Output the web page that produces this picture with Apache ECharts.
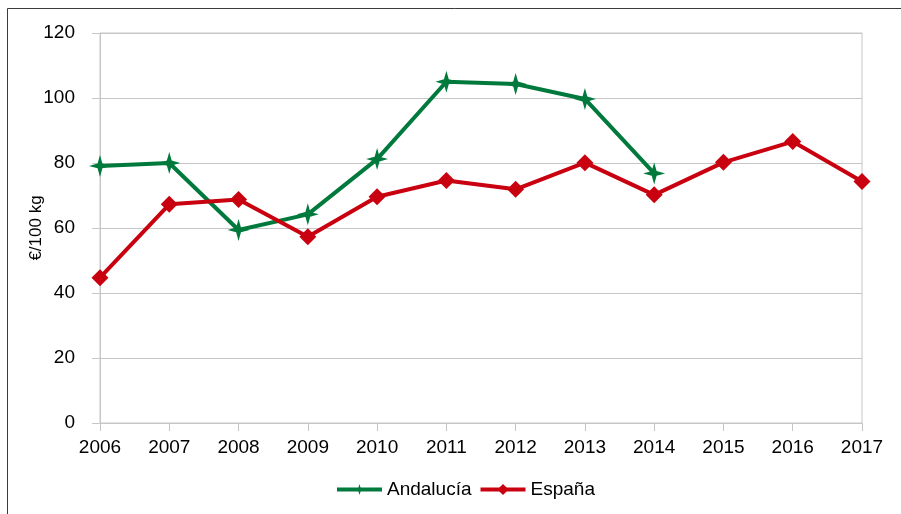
<!DOCTYPE html>
<html>
<head>
<meta charset="utf-8">
<script src="https://cdn.jsdelivr.net/npm/echarts@6/dist/echarts.min.js"></script>
<style>
  html, body { margin: 0; padding: 0; background: #fff; }
  #main { width: 901px; height: 514px; }
</style>
</head>
<body>
<div id="main"></div>
<script>
// datos (€/100 kg)
var years = ['2006', '2007', '2008', '2009', '2010', '2011', '2012', '2013', '2014', '2015', '2016', '2017'];
var andalucia = [79.1, 80.0, 59.4, 64.2, 81.2, 105.0, 104.3, 99.7, 76.8, null, null, null];
var espana = [44.7, 67.3, 68.8, 57.3, 69.6, 74.6, 71.9, 80.1, 70.2, 80.2, 86.6, 74.3];

var green = '#007a3c';
var red = '#c9000f';
var starPath = 'path://M10,0 L12.2,7.8 L20,10 L12.2,12.2 L10,20 L7.8,12.2 L0,10 L7.8,7.8 Z';

var chart = echarts.init(document.getElementById('main'));

var option = {
    animation: false,
    textStyle: { fontFamily: 'Liberation Sans', color: '#000' },
    graphic: [{
        type: 'polyline',
        shape: { points: [[7.5, 514], [7.5, 8.5], [901, 8.5]] },
        style: { stroke: '#3a3a3a', lineWidth: 1, fill: null }
    }],
    grid: {
        left: 100, right: 39, top: 33, bottom: 91,
        show: true, borderColor: '#c6c6c6', borderWidth: 1
    },
    legend: {
        left: 330, top: 475,
        itemWidth: 45, itemHeight: 14, itemGap: 7,
        lineStyle: { width: 4 },
        textStyle: { fontSize: 19, color: '#000', fontFamily: 'Liberation Sans' },
        data: ['Andalucía', 'España']
    },
    xAxis: {
        type: 'category',
        data: years,
        boundaryGap: false,
        axisLine: { lineStyle: { color: '#c6c6c6', width: 1 } },
        axisTick: { show: true, length: 8, alignWithLabel: true, lineStyle: { color: '#c6c6c6' } },
        axisLabel: { fontSize: 19, color: '#000', margin: 15 },
        splitLine: { show: false }
    },
    yAxis: {
        type: 'value',
        min: 0, max: 120, interval: 20,
        name: '€/100 kg',
        nameLocation: 'middle',
        nameRotate: 90,
        nameGap: 55,
        nameMoveOverlap: false,
        nameTextStyle: { fontSize: 17, color: '#000' },
        axisLine: { show: true, lineStyle: { color: '#c6c6c6', width: 1 } },
        axisTick: { show: true, length: 8, lineStyle: { color: '#c6c6c6' } },
        axisLabel: { fontSize: 19, color: '#000', margin: 25 },
        splitLine: { show: true, lineStyle: { color: '#c6c6c6', width: 1 } }
    },
    series: [
        {
            name: 'Andalucía',
            type: 'line',
            data: andalucia,
            symbol: starPath,
            symbolSize: 22,
            showAllSymbol: true,
            lineStyle: { color: green, width: 4 },
            itemStyle: { color: green }
        },
        {
            name: 'España',
            type: 'line',
            data: espana,
            symbol: 'diamond',
            symbolSize: 17,
            showAllSymbol: true,
            lineStyle: { color: red, width: 4 },
            itemStyle: { color: red }
        }
    ]
};

chart.setOption(option);
</script>
</body>
</html>
